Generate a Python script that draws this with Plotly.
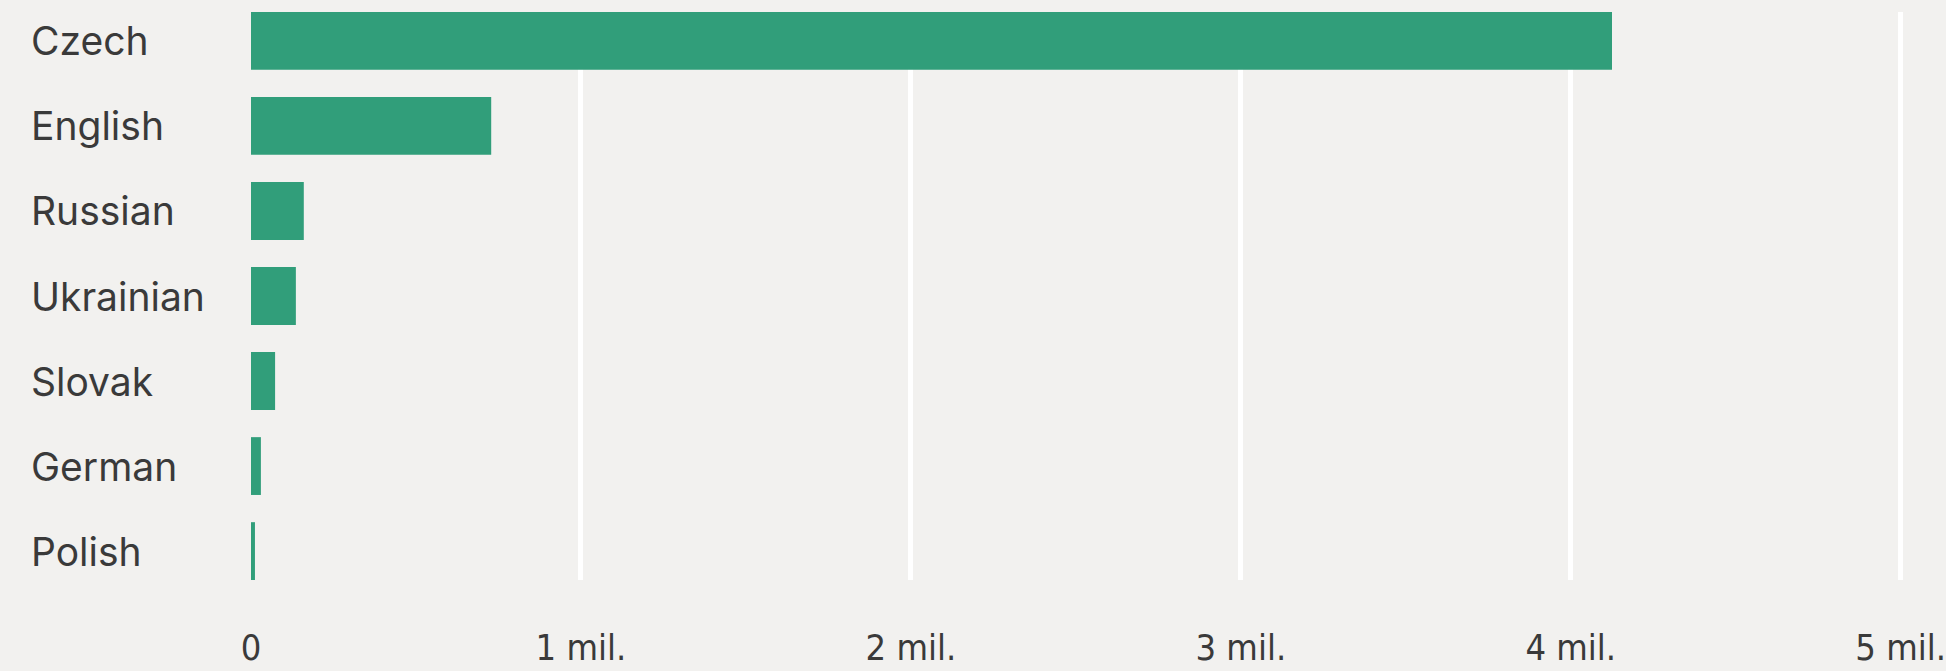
import plotly.graph_objects as go

languages = ["Czech", "English", "Russian", "Ukrainian", "Slovak", "German", "Polish"]
speakers = [4125000, 728000, 160000, 136000, 73000, 30000, 12000]
tick_values = [0, 1000000, 2000000, 3000000, 4000000, 5000000]
tick_labels = ["0", "1 mil.", "2 mil.", "3 mil.", "4 mil.", "5 mil."]

BG = "#f2f1ef"
BAR = "#319e7a"
TEXT = "#3a3a3a"

fig = go.Figure()
fig.add_trace(go.Bar(
    y=languages, x=speakers, orientation="h",
    marker=dict(color=BAR, line=dict(width=0)),
    hoverinfo="x+y",
))

for lang in languages:
    fig.add_annotation(
        x=0, xref="paper", xshift=-222, y=lang, yref="y",
        text=lang, showarrow=False, xanchor="left", yanchor="middle",
        font=dict(family="Inter", size=39, color=TEXT),
    )

fig.update_layout(
    width=1946, height=671,
    margin=dict(l=251, r=42, t=12, b=91),
    paper_bgcolor=BG, plot_bgcolor=BG,
    bargap=0.32,
    showlegend=False,
    xaxis=dict(
        range=[0, 5010000],
        tickvals=tick_values, ticktext=tick_labels,
        showgrid=True, gridcolor="#ffffff", gridwidth=5,
        zeroline=False, showline=False,
        ticks="outside", ticklen=36, tickcolor=BG,
        tickfont=dict(family="DejaVu Sans Condensed", size=36, color=TEXT),
        ticklabeloverflow="allow",
        automargin=False,
    ),
    yaxis=dict(
        type="category", categoryorder="array", categoryarray=languages,
        range=[6.34, -0.34], automargin=False,
        showticklabels=False, showgrid=False, zeroline=False, showline=False,
    ),
)

fig.write_html(
    "out.html",
    config={"displayModeBar": False},
    post_script="document.body.style.margin='0';document.body.style.background='%s';" % BG,
)
